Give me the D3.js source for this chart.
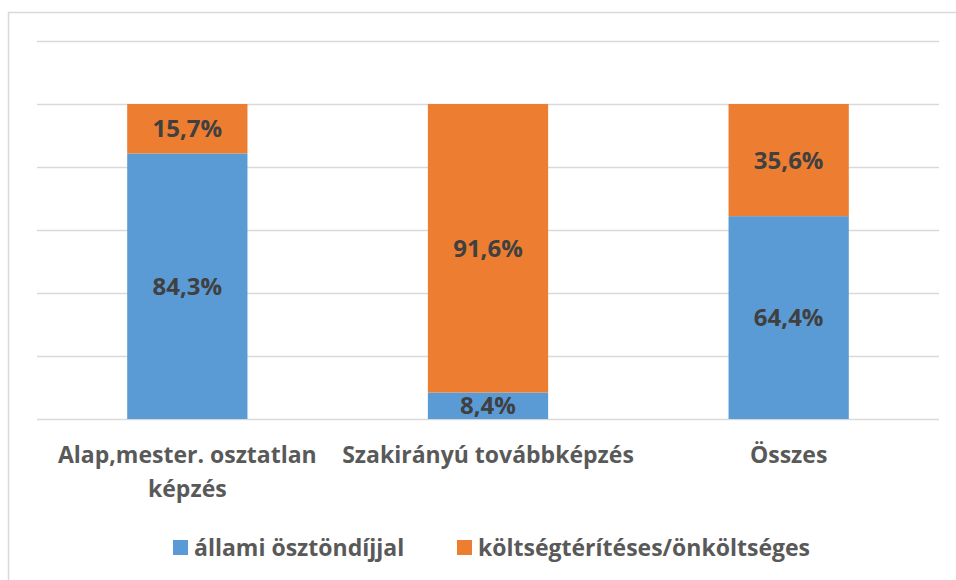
<!DOCTYPE html>
<html>
<head>
<meta charset="utf-8">
<script src="https://cdn.jsdelivr.net/npm/d3@7"></script>
<style>
  body { margin: 0; background: #fff; }
  svg text { font-family: "Open Sans", "Lato", sans-serif; font-weight: 700; }
</style>
</head>
<body>
<div id="chart"></div>
<script>
var categories = [["Alap,mester. osztatlan", "képzés"], ["Szakirányú továbbképzés"], ["Összes"]];
var seriesNames = ["állami ösztöndíjjal", "költségtérítéses/önköltséges"];
var allami = [84.3, 8.4, 64.4];
var koltseg = [15.7, 91.6, 35.6];
var yTicks = [0, 20, 40, 60, 80, 100, 120];
var colors = ["#5B9BD5", "#ED7D31"];

var width = 956, height = 580;
var margin = { top: 41, bottom: 161, left: 37, right: 17 };

var svg = d3.select("#chart").append("svg")
    .attr("width", width)
    .attr("height", height);

// outer frame (right/bottom edges fall outside the picture)
svg.append("rect")
    .attr("x", 8.5).attr("y", 12.5)
    .attr("width", 960).attr("height", 600)
    .attr("fill", "none")
    .attr("stroke", "#d9d9d9")
    .attr("stroke-width", 1.5);

var keys = categories.map(function (c) { return c.join(" "); });
var rows = keys.map(function (k, i) { return { key: k, a: allami[i], b: koltseg[i] }; });

var xScale = d3.scaleBand()
    .domain(keys)
    .range([margin.left, width - margin.right])
    .paddingInner(0.6)
    .paddingOuter(0.3);

var yScale = d3.scaleLinear()
    .domain([0, 120])
    .range([height - margin.bottom, margin.top]);

// gridlines
svg.append("g")
    .attr("class", "grid")
    .attr("transform", "translate(" + margin.left + ",0)")
    .call(d3.axisLeft(yScale).tickValues(yTicks).tickSize(-(width - margin.left - margin.right)).tickFormat(""))
    .call(function (g) { g.select(".domain").remove(); })
    .call(function (g) { g.selectAll("line").attr("stroke", "#d9d9d9").attr("stroke-width", 1.5); });

var stacked = d3.stack().keys(["a", "b"])(rows);

var layers = svg.append("g").attr("class", "bars")
    .selectAll("g")
    .data(stacked)
    .enter().append("g")
    .attr("fill", function (d, i) { return colors[i]; });

layers.selectAll("rect")
    .data(function (d) { return d; })
    .enter().append("rect")
    .attr("x", function (d) { return xScale(d.data.key); })
    .attr("y", function (d) { return yScale(d[1]); })
    .attr("width", xScale.bandwidth())
    .attr("height", function (d) { return yScale(d[0]) - yScale(d[1]); });

var fmt = function (v) { return v.toFixed(1).replace(".", ",") + "%"; };

layers.selectAll("text")
    .data(function (d) { return d; })
    .enter().append("text")
    .attr("x", function (d) { return xScale(d.data.key) + xScale.bandwidth() / 2; })
    .attr("y", function (d) { return (yScale(d[0]) + yScale(d[1])) / 2; })
    .attr("dy", "0.36em")
    .attr("text-anchor", "middle")
    .attr("fill", "#404040")
    .style("font-size", "24px")
    .text(function (d) { return fmt(d[1] - d[0]); });

// category labels
var xLab = svg.append("g").attr("class", "x axis");
xLab.selectAll("text")
    .data(categories)
    .enter().append("text")
    .attr("x", function (d) { return xScale(d.join(" ")) + xScale.bandwidth() / 2; })
    .attr("y", 463)
    .attr("text-anchor", "middle")
    .attr("fill", "#595959")
    .style("font-size", "23px")
    .each(function (d) {
        var t = d3.select(this);
        d.forEach(function (line, i) {
            t.append("tspan")
                .attr("x", t.attr("x"))
                .attr("dy", i === 0 ? 0 : 34)
                .text(line);
        });
    });

// legend
var legendX = [173, 457];
var legend = svg.append("g").attr("class", "legend")
    .selectAll("g")
    .data(seriesNames)
    .enter().append("g")
    .attr("transform", function (d, i) { return "translate(" + legendX[i] + ",540)"; });

legend.append("rect")
    .attr("width", 15).attr("height", 15)
    .attr("fill", function (d, i) { return colors[i]; });

legend.append("text")
    .attr("x", 21).attr("y", 8)
    .attr("dy", "0.36em")
    .attr("fill", "#595959")
    .style("font-size", "23px")
    .text(function (d) { return d; });
</script>
</body>
</html>
